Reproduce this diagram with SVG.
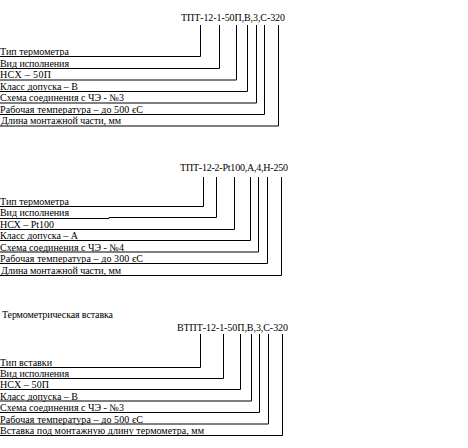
<svg xmlns="http://www.w3.org/2000/svg" width="468" height="448" viewBox="0 0 468 448">
<style>
text{font-family:"Liberation Serif","Times New Roman",serif;font-size:10px;fill:#000}
.c{fill:none;stroke:#000;stroke-width:1}
</style>
<rect width="468" height="448" fill="#fff"/>
<g id="block1">
<g id="t1"><text x="181" y="21" textLength="104" lengthAdjust="spacing">ТПТ-12-1-50П,В,3,С-320</text></g>
<g id="b1l1"><text x="0" y="55" textLength="69" lengthAdjust="spacing">Тип термометра</text></g>
<g id="b1l2"><text x="0" y="66.5" textLength="69" lengthAdjust="spacing">Вид исполнения</text></g>
<g id="b1l3"><text x="0" y="78" textLength="51" lengthAdjust="spacing">НСХ – 50П</text></g>
<g id="b1l4"><text x="0" y="89.5" textLength="78" lengthAdjust="spacing">Класс допуска – В</text></g>
<g id="b1l5"><text x="0" y="101" textLength="124" lengthAdjust="spacing">Схема соединения с ЧЭ - №3</text></g>
<g id="b1l6"><text x="0" y="112.5" textLength="143" lengthAdjust="spacing">Рабочая температура – до 500 єС</text></g>
<g id="b1l7"><text x="1" y="124" textLength="120" lengthAdjust="spacing">Длина монтажной части, мм</text></g>
</g>
<g id="block2">
<g id="t2"><text x="180" y="171" textLength="108" lengthAdjust="spacing">ТПТ-12-2-Pt100,А,4,Н-250</text></g>
<g id="b2l1"><text x="0" y="205" textLength="69" lengthAdjust="spacing">Тип термометра</text></g>
<g id="b2l2"><text x="0" y="216" textLength="69" lengthAdjust="spacing">Вид исполнения</text></g>
<g id="b2l3"><text x="0" y="228" textLength="54" lengthAdjust="spacing">НСХ – Pt100</text></g>
<g id="b2l4"><text x="0" y="239" textLength="78" lengthAdjust="spacing">Класс допуска – А</text></g>
<g id="b2l5"><text x="0" y="250.5" textLength="124" lengthAdjust="spacing">Схема соединения с ЧЭ - №4</text></g>
<g id="b2l6"><text x="0" y="262" textLength="143" lengthAdjust="spacing">Рабочая температура – до 300 єС</text></g>
<g id="b2l7"><text x="1" y="274" textLength="120" lengthAdjust="spacing">Длина монтажной части, мм</text></g>
</g>
<g id="block3">
<g id="h3"><text x="2" y="318" textLength="111" lengthAdjust="spacing">Термометрическая вставка</text></g>
<g id="t3"><text x="177" y="331" textLength="111" lengthAdjust="spacing">ВТПТ-12-1-50П,В,3,С-320</text></g>
<g id="b3l1"><text x="0" y="366">Тип вставки</text></g>
<g id="b3l2"><text x="0" y="377" textLength="69" lengthAdjust="spacing">Вид исполнения</text></g>
<g id="b3l3"><text x="0" y="388" textLength="49" lengthAdjust="spacing">НСХ – 50П</text></g>
<g id="b3l4"><text x="0" y="399.5" textLength="78" lengthAdjust="spacing">Класс допуска – В</text></g>
<g id="b3l5"><text x="0" y="411" textLength="124" lengthAdjust="spacing">Схема соединения с ЧЭ - №3</text></g>
<g id="b3l6"><text x="0" y="422.5" textLength="143" lengthAdjust="spacing">Рабочая температура – до 500 єС</text></g>
<g id="b3l7"><text x="0" y="434" textLength="204" lengthAdjust="spacing">Вставка под монтажную длину термометра, мм</text></g>
</g>
<g id="connectors">
<path class="c" d="M200.5,25 V56.5 H0"/>
<path class="c" d="M219.5,25 V68.5 H0"/>
<path class="c" d="M236.5,25 V80 H0"/>
<path class="c" d="M247.5,25 V91.5 H0"/>
<path class="c" d="M256.5,25 V103 H0"/>
<path class="c" d="M264.5,25 V114.5 H0"/>
<path class="c" d="M278.5,25 V126 H0"/>
<path class="c" d="M203.5,177 V206.5 H0"/>
<path class="c" d="M216.5,177 V217.5 H109 V218.5 H0"/>
<path class="c" d="M234.5,177 V229.5 H0"/>
<path class="c" d="M250.5,177 V240.5 H0"/>
<path class="c" d="M258.5,177 V252 H0"/>
<path class="c" d="M267.5,177 V263.5 H0"/>
<path class="c" d="M281.5,177 V275.5 H0"/>
<path class="c" d="M200.5,334 V367.5 H0"/>
<path class="c" d="M223.5,334 V378.5 H0"/>
<path class="c" d="M240.5,334 V389.5 H0"/>
<path class="c" d="M251.5,334 V401 H0"/>
<path class="c" d="M259.5,334 V412.5 H0"/>
<path class="c" d="M268.5,334 V424 H0"/>
<path class="c" d="M282.5,334 V435.5 H0"/>
</g>
</svg>
